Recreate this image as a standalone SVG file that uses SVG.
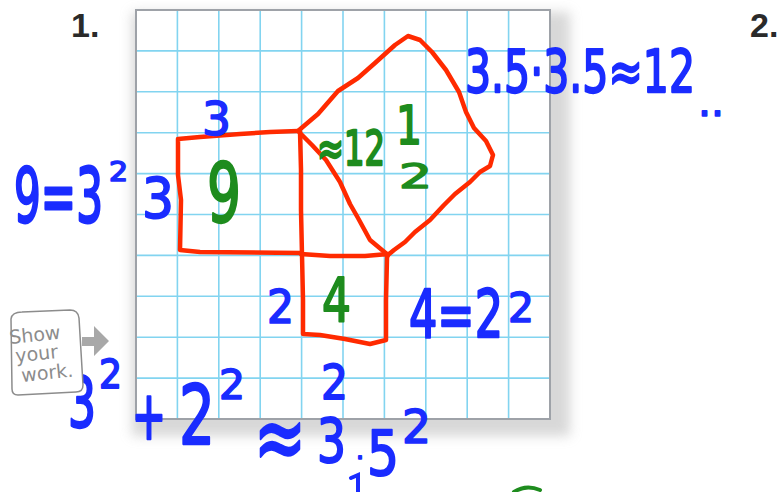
<svg xmlns="http://www.w3.org/2000/svg" width="782" height="492" viewBox="0 0 782 492">
<defs>
<filter id="sh" x="-10%" y="-10%" width="120%" height="120%"><feGaussianBlur stdDeviation="6"/></filter>
<style>
.num{font-family:"Liberation Sans",Arial,sans-serif;font-weight:bold;font-size:34px;fill:#2a2a2a}
.b{font-family:"DejaVu Sans",sans-serif;fill:#1a2cff;stroke:#1a2cff;stroke-width:1.6;stroke-linejoin:round}
.g{font-family:"DejaVu Sans",sans-serif;fill:#1e8c1e;stroke:#1e8c1e;stroke-width:1.6;stroke-linejoin:round}
.gl{stroke:#82d4f0;stroke-width:1.6}
.red{fill:none;stroke:#ff2a00;stroke-width:4.5;stroke-linejoin:round;stroke-linecap:round}
.sw{font-family:"DejaVu Sans",sans-serif;font-size:19px;fill:#8c8c8c}
</style>
</defs>
<rect width="782" height="492" fill="#ffffff"/>
<text class="num" x="71" y="37">1.</text>
<text class="num" x="750" y="37">2.</text>
<!-- grid paper -->
<g id="grid">
<rect x="132" y="12" width="438" height="424" fill="#c8c8c8" filter="url(#sh)" opacity="0.7"/>
<rect x="136" y="10" width="414" height="409" fill="#ffffff"/>
<g class="gl">
<line x1="177.4" y1="10" x2="177.4" y2="419"/><line x1="218.8" y1="10" x2="218.8" y2="419"/>
<line x1="260.2" y1="10" x2="260.2" y2="419"/><line x1="301.6" y1="10" x2="301.6" y2="419"/>
<line x1="343" y1="10" x2="343" y2="419"/><line x1="384.4" y1="10" x2="384.4" y2="419"/>
<line x1="425.8" y1="10" x2="425.8" y2="419"/><line x1="467.2" y1="10" x2="467.2" y2="419"/>
<line x1="508.6" y1="10" x2="508.6" y2="419"/>
<line x1="136" y1="50.9" x2="550" y2="50.9"/><line x1="136" y1="91.8" x2="550" y2="91.8"/>
<line x1="136" y1="132.7" x2="550" y2="132.7"/><line x1="136" y1="173.6" x2="550" y2="173.6"/>
<line x1="136" y1="214.5" x2="550" y2="214.5"/><line x1="136" y1="255.4" x2="550" y2="255.4"/>
<line x1="136" y1="296.3" x2="550" y2="296.3"/><line x1="136" y1="337.2" x2="550" y2="337.2"/>
<line x1="136" y1="378.1" x2="550" y2="378.1"/>
</g>
<rect x="136" y="10" width="414" height="409" fill="none" stroke="#9ea2a8" stroke-width="2"/>
</g>
<!-- red squares -->
<g id="square9">
<path class="red" d="M178,139 L200,137 L240,134 L270,132 L298,131 M178,139 L178,175 L181,200 L180,250 L200,252 L301,253"/>
</g>
<g id="square4">
<path class="red" d="M300,131 L301,170 L301,210 L302,255 L303,300 L303,334 L320,335 L345,339 L370,344 L386,340 L386,300 L387,258 L388,254 M301,254 L330,256 L365,256 L388,254"/>
</g>
<g id="squareHyp">
<path class="red" d="M298,131 L312,145 L326,160 L340,182 L350,204 L358,218 L370,240 L388,255 M298,131 L318,114 L338,91 L358,78 L375,63 L395,45 L408,36 L420,40 L432,52 L446,70 L459,92 L466,112 L474,128 L486,141 L493,155 L490,166 L480,172 L470,182 L455,194 L444,205 L430,220 L415,232 L405,242 L394,250 L388,255"/>
</g>
<!-- green labels -->
<g id="greenLabels">
<text class="g" x="207" y="222" font-size="53" textLength="34" lengthAdjust="spacingAndGlyphs" transform="matrix(1,0,0,1.55,0,-122.1)">9</text>
<text class="g" x="317" y="165" font-size="32" textLength="68" lengthAdjust="spacingAndGlyphs" transform="matrix(1,0,0,1.5,0,-82.5)">≈12</text>
<text class="g" x="396" y="144" font-size="41" textLength="26" lengthAdjust="spacingAndGlyphs" transform="matrix(1,0,0,1.3,0,-43.2)">1</text>
<text class="g" x="399" y="188" font-size="34" textLength="33" lengthAdjust="spacingAndGlyphs">2</text>
<text class="g" x="322" y="321" font-size="45.6" textLength="29" lengthAdjust="spacingAndGlyphs" transform="matrix(1,0,0,1.33,0,-105.93)">4</text>
<path d="M514,492 Q526,484 540,490" fill="none" stroke="#1e8c1e" stroke-width="4" stroke-linecap="round"/>
</g>
<!-- blue labels -->
<g id="blueLabels">
<text class="b" x="202" y="135" font-size="46" textLength="29" lengthAdjust="spacingAndGlyphs">3</text>
<text class="b" x="14" y="222" font-size="42" textLength="89" lengthAdjust="spacingAndGlyphs" transform="matrix(1,0,0,1.76,0,-168.72)">9=3</text>
<text class="b" x="109" y="181" font-size="26" textLength="19" lengthAdjust="spacingAndGlyphs">2</text>
<text class="b" x="142" y="217" font-size="50" textLength="32" lengthAdjust="spacingAndGlyphs" transform="matrix(1,0,0,1.1,0,-21.7)">3</text>
<text class="b" x="465" y="92" font-size="41.5" textLength="230" lengthAdjust="spacingAndGlyphs" transform="matrix(1,0,0,1.43,0,-39.56)">3.5·3.5≈12</text>
<text class="b" x="698" y="116" font-size="40" textLength="26" lengthAdjust="spacingAndGlyphs">..</text>
<text class="b" x="267" y="323" font-size="43" textLength="27" lengthAdjust="spacingAndGlyphs" transform="matrix(1,0,0,1.07,0,-22.61)">2</text>
<text class="b" x="409" y="337" font-size="44.5" textLength="94" lengthAdjust="spacingAndGlyphs" transform="matrix(1,0,0,1.48,0,-161.76)">4=2</text>
<text class="b" x="508" y="322" font-size="41" textLength="26" lengthAdjust="spacingAndGlyphs">2</text>
<text class="b" x="321" y="399" font-size="43" textLength="27" lengthAdjust="spacingAndGlyphs" transform="matrix(1,0,0,1.1,0,-39.9)">2</text>
<text class="b" x="68" y="427" font-size="44" textLength="28" lengthAdjust="spacingAndGlyphs" transform="matrix(1,0,0,1.56,0,-239.12)">3</text>
<text class="b" x="99" y="388" font-size="36" textLength="23" lengthAdjust="spacingAndGlyphs" transform="matrix(1,0,0,1.1,0,-38.8)">2</text>
<text class="b" x="132" y="439" font-size="40.6" textLength="34" lengthAdjust="spacingAndGlyphs" transform="matrix(1,0,0,1.65,0,-285.35)">+</text>
<text class="b" x="179" y="444" font-size="57" textLength="36" lengthAdjust="spacingAndGlyphs" transform="matrix(1,0,0,1.45,0,-199.8)">2</text>
<text class="b" x="219" y="399" font-size="40" textLength="26" lengthAdjust="spacingAndGlyphs">2</text>
<text class="b" x="254" y="468.6" font-size="58" textLength="52" lengthAdjust="spacingAndGlyphs" transform="matrix(1,0,0,1.6,0,-281.16)">≈</text>
<text class="b" x="317" y="462" font-size="46" textLength="29" lengthAdjust="spacingAndGlyphs" transform="matrix(1,0,0,1.3,0,-138.6)">3</text>
<text class="b" x="356" y="459" font-size="25" textLength="8" lengthAdjust="spacingAndGlyphs">.</text>
<text class="b" x="367" y="475" font-size="50" textLength="32" lengthAdjust="spacingAndGlyphs" transform="matrix(1,0,0,1.23,0,-109.25)">5</text>
<text class="b" x="402" y="443" font-size="46" textLength="29" lengthAdjust="spacingAndGlyphs">2</text>
<path d="M351,478 L358,475 L358,492" fill="none" stroke="#1a2cff" stroke-width="4" stroke-linecap="round"/>
</g>
<!-- show your work sticker -->
<g id="showYourWork">
<path d="M11,319 Q12,312 22,312 L70,310 Q78,310 79,318 L83,385 Q83,392 76,392 L18,395 Q12,395 12,389 Z" fill="#ffffff" stroke="#8c8c8c" stroke-width="1.5"/>
<path d="M82,337 L94,337 L94,326 L109,341 L94,356 L94,346 L82,346 Z" fill="#a8a8a8"/>
<text class="sw" transform="rotate(-6 10 344)"><tspan x="10" y="344">Show</tspan><tspan x="14" y="363">your</tspan><tspan x="18" y="383">work.</tspan></text>
</g>
</svg>
